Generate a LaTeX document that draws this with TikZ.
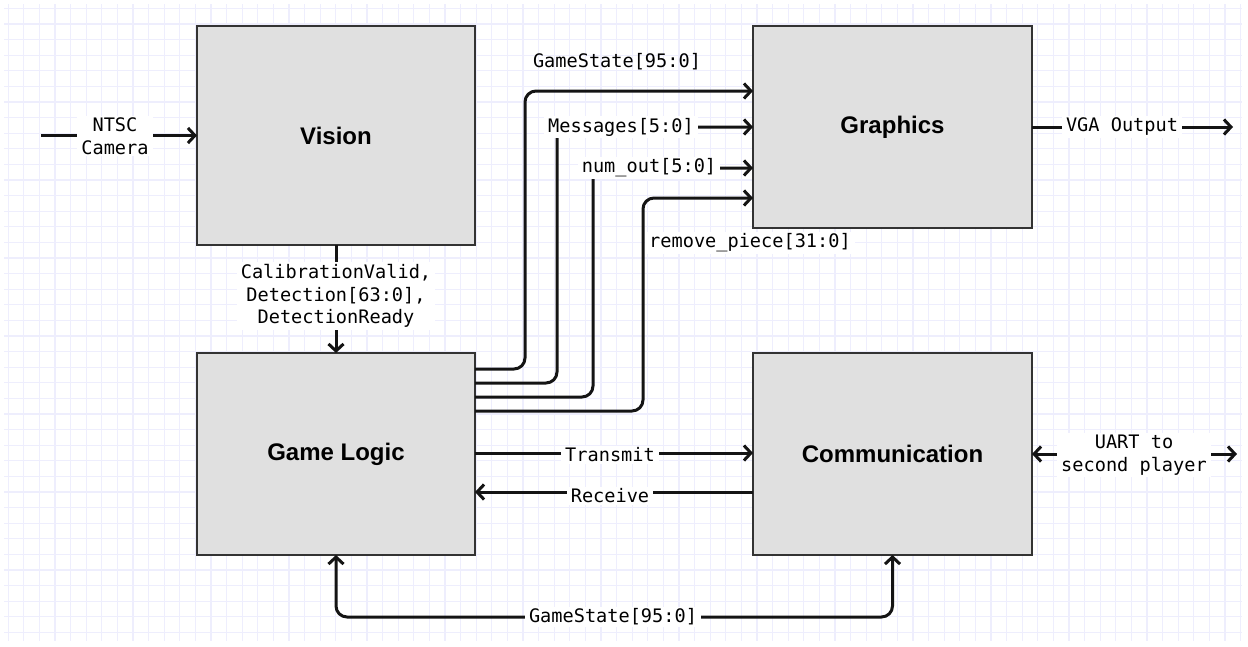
\documentclass[tikz,border=0pt]{standalone}
\usepackage{fontspec}
\setmainfont{Liberation Sans}
\newfontfamily\monof{DejaVu Sans Mono}
\usetikzlibrary{arrows.meta}
\definecolor{gridc}{HTML}{EEEEFD}
\definecolor{boxfill}{HTML}{E0E0E0}
\definecolor{boxline}{HTML}{333333}
\tikzset{
  block/.style={draw=boxline, fill=boxfill, line width=1.8pt, inner sep=0pt, outer sep=0pt,
    font=\fontsize{24}{28}\selectfont\bfseries},
  wire/.style={line width=3pt, draw=black!92, rounded corners=11pt},
  tip/.tip={Straight Barb[length=7pt,width=15pt]},
  arr/.style={wire, -tip},
  biarr/.style={wire, tip-tip},
  lbl/.style={fill=white, inner xsep=4pt, inner ysep=2pt, align=center,
    font=\monof\fontsize{18.6}{22.5}\selectfont},
}
\begin{document}
\begin{tikzpicture}[x=1pt,y=-1pt]
\useasboundingbox (0,0) rectangle (1248,646);
\fill[white] (0,0) rectangle (1248,646);
% grid
\foreach \i in {0,...,79} {
  \draw[gridc, line width=1.3pt] ({8.2+15.6*\i},4) -- ({8.2+15.6*\i},641);
}
\foreach \j in {0,...,40} {
  \draw[gridc, line width=1.3pt] (4,{8.4+15.6*\j}) -- (1242,{8.4+15.6*\j});
}
% blocks
\node[block, minimum width=278pt, minimum height=219pt] (vision) at (336,135.5) {Vision};
\node[block, minimum width=279pt, minimum height=202pt] (graphics) at (892.5,127) {Graphics};
\node[block, minimum width=278pt, minimum height=202pt] (logic) at (336,454) {Game Logic};
\node[block, minimum width=279pt, minimum height=202pt] (comm) at (892.5,454) {Communication};
% free ends
\coordinate (ntscS) at (41,135.5);
\coordinate (vgaE) at (1233,127);
\coordinate (uartE) at (1237,454);
% NTSC
\draw[arr] (ntscS) -- (vision.west);
\node[lbl] (ntscL) at (115,136) {NTSC\\Camera};
% VGA
\draw[arr] (graphics.east) -- (vgaE);
\node[lbl] (vgaL) at (1122,127) {VGA Output};
% UART
\draw[biarr] (comm.east) -- (uartE);
\node[lbl] (uartL) at (1134,455) {UART to\\second player};
% vision -> logic
\draw[arr] (vision.south) -- (logic.north);
\node[lbl] (detL) at (336,296) {CalibrationValid,\\Detection[63:0],\\DetectionReady};
% transmit / receive
\draw[arr] (logic.east |- 0,453) -- (comm.west |- 0,453);
\node[lbl] (txL) at (610,455) {Transmit};
\draw[arr] (comm.west |- 0,492) -- (logic.east |- 0,492);
\node[lbl] (rxL) at (610,496) {Receive};
% bottom gamestate
\draw[biarr] (logic.south) -- (336,617) -- (892.5,617) -- (comm.south);
\node[lbl] (gsBL) at (613,617) {GameState[95:0]};
% logic -> graphics buses
\draw[arr] (logic.east |- 0,369) -- (525,369) -- (525,91) -- (graphics.west |- 0,91);
\node[lbl, fill=none] (gsTL) at (617,62) {GameState[95:0]};
\draw[arr] (logic.east |- 0,383) -- (557,383) -- (557,127) -- (graphics.west |- 0,127);
\node[lbl] (msgL) at (621,127) {Messages[5:0]};
\draw[arr] (logic.east |- 0,397) -- (593,397) -- (593,168) -- (graphics.west |- 0,168);
\node[lbl] (numL) at (649,168) {num\_out[5:0]};
\draw[arr] (logic.east |- 0,411) -- (643,411) -- (643,198) -- (graphics.west |- 0,198);
\node[lbl] (rmL) at (750,243) {remove\_piece[31:0]};
\end{tikzpicture}
\end{document}
